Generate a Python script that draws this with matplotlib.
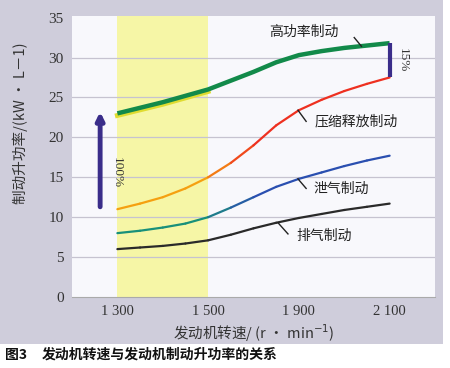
import numpy as np
import matplotlib
matplotlib.use('Agg')
from matplotlib import pyplot as plt
from matplotlib.collections import LineCollection
from matplotlib.colors import LinearSegmentedColormap
from matplotlib.patches import Rectangle
import matplotlib.transforms as mtransforms

plt.rcParams['font.family'] = ['Noto Sans CJK SC', 'DejaVu Sans']

# engine speed categories (evenly spaced on the chart)
speeds = ['1 300', '1 500', '1 900', '2 100']
# positions where values were read (category index units)
xs = [0, 0.25, 0.5, 0.75, 1, 1.25, 1.5, 1.75, 2, 2.25, 2.5, 2.75, 3]

high_power = [23.0, 23.7, 24.4, 25.2, 26.0, 27.1, 28.2, 29.4, 30.3, 30.8, 31.2, 31.5, 31.8]
compression = [11.0, 11.7, 12.5, 13.6, 15.0, 16.8, 19.0, 21.5, 23.4, 24.7, 25.8, 26.7, 27.5]
bleed = [8.0, 8.3, 8.7, 9.2, 10.0, 11.2, 12.5, 13.8, 14.8, 15.6, 16.4, 17.1, 17.7]
exhaust = [6.0, 6.2, 6.4, 6.7, 7.1, 7.8, 8.6, 9.3, 9.9, 10.4, 10.9, 11.3, 11.7]

labels = ['高功率制动', '压缩释放制动', '泄气制动', '排气制动']

fig = plt.figure(figsize=(4.5, 3.68), dpi=100)
fig.patch.set_facecolor('white')
# grey panel behind the chart
fig.patches.append(Rectangle((0, 1 - 344 / 368), 443 / 450, 344 / 368,
                             transform=fig.transFigure, facecolor='#cfcddb',
                             edgecolor='none', zorder=-10))

ax = fig.add_axes([72 / 450, 1 - 297 / 368, 363 / 450, 281 / 368])
ax.set_facecolor('#f8f8fc')
ax.set_xlim(-0.5, 3.5)
ax.set_ylim(0, 35.2)

# highlighted speed range
ax.axvspan(0, 1, color='#f6f6a6', zorder=0.5, lw=0)

for v in range(5, 35, 5):
    ax.axhline(v, color='#c6c3d0', lw=0.9, zorder=0.6)


def gradient_line(x, y, c1, c2, lw):
    pts = np.column_stack([x, y]).reshape(-1, 1, 2)
    segs = np.concatenate([pts[:-1], pts[1:]], axis=1)
    cmap = LinearSegmentedColormap.from_list('g', [(0, c1), (0.3, c1), (0.5, c2), (1, c2)])
    lc = LineCollection(segs, cmap=cmap, linewidths=lw, capstyle='round',
                        joinstyle='round', zorder=3)
    lc.set_array(np.linspace(0, 1, len(segs)))
    ax.add_collection(lc)


gradient_line(xs, exhaust, '#2a2a2a', '#2a2a2a', 1.6)
gradient_line(xs, bleed, '#18907a', '#2a4fb0', 1.6)
gradient_line(xs, compression, '#f5a010', '#ee3020', 1.6)

# high power braking, thick green with a yellow edge in the highlighted band
shift = ax.transData + mtransforms.ScaledTranslation(0, -1.5 / 72, fig.dpi_scale_trans)
ax.plot(xs[:5], high_power[:5], color='#e0dc30', lw=3.5, zorder=3.5, transform=shift)
ax.plot(xs, high_power, color='#128a4a', lw=3.2, zorder=4, solid_capstyle='butt')

# +100 % arrow
ax.annotate('', xy=(-0.19, 23.2), xytext=(-0.19, 11.3),
            arrowprops=dict(arrowstyle='-|>', lw=3.5, color='#3a2d8a',
                            mutation_scale=11, shrinkA=0, shrinkB=0))
ax.text(-0.01, 15.6, '100%', rotation=-90, ha='center', va='center',
        family='Liberation Serif', fontsize=9.5, color='#333333')

# +15 % bar at the top speed
ax.vlines(3, compression[-1], high_power[-1], color='#3a2d8a', lw=3, zorder=5)
ax.text(3.14, 29.7, '15%', rotation=-90, ha='center', va='center',
        family='Liberation Serif', fontsize=9.5, color='#333333')

# curve labels with short leader lines
label_pos = [(1.67, 33.2), (2.17, 22.0), (2.16, 13.6), (1.97, 7.7)]
leaders = [((2.61, 32.5), (2.69, 31.4)), ((1.99, 23.4), (2.08, 22.0)),
           ((1.99, 14.8), (2.08, 13.6)), ((1.77, 9.3), (1.88, 7.9))]
for text, (tx, ty), (p0, p1) in zip(labels, label_pos, leaders):
    ax.text(tx, ty, text, ha='left', va='center', fontsize=10, color='#222222')
    ax.plot([p0[0], p1[0]], [p0[1], p1[1]], color='#222222', lw=1.0, zorder=5)

ax.set_xticks(range(len(speeds)))
ax.set_xticklabels(speeds, family='Liberation Serif', fontsize=10.5, color='#333333')
ax.set_yticks(range(0, 36, 5))
ax.set_yticklabels([str(v) for v in range(0, 36, 5)], family='Liberation Serif',
                   fontsize=11, color='#333333')
ax.tick_params(axis='x', length=0, pad=6)
ax.tick_params(axis='y', length=0, pad=6)
for side in ['top', 'right', 'left']:
    ax.spines[side].set_visible(False)
ax.spines['bottom'].set_color('#aaaaaa')

ax.set_xlabel('发动机转速/ (r · min$^{-1}$)', fontsize=10.5, color='#333333', labelpad=3)
ax.set_ylabel('制动升功率/(kW · L－1)', fontsize=10.5, color='#333333')
ax.yaxis.set_label_coords(-0.12, 0.62)

fig.text(5 / 450, 1 - 355 / 368, '图3', fontsize=10, fontweight='bold',
         va='center', color='#111111')
fig.text(42 / 450, 1 - 355 / 368, '发动机转速与发动机制动升功率的关系', fontsize=10,
         fontweight='bold', va='center', color='#111111')

fig.savefig('out.png', dpi=100)
